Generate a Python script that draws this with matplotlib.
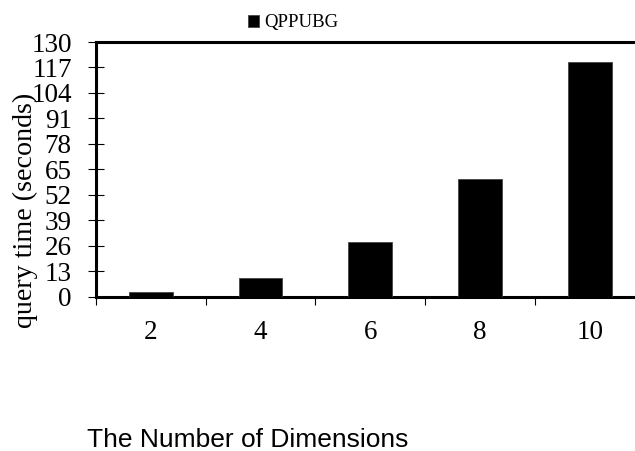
import numpy as np
import matplotlib.pyplot as plt

# data
dims = ["2", "4", "6", "8", "10"]
query_time = [2.3, 9.5, 28, 60, 120]
series_name = "QPPUBG"

fig = plt.figure(figsize=(6.35, 4.51), dpi=100)
ax = fig.add_axes([96 / 635, 154.3 / 451, 548.5 / 635, 254.7 / 451])

x = np.arange(len(dims))
ax.bar(x, query_time, width=0.4, color="black", edgecolor="#444444",
       linewidth=0.6, label=series_name, zorder=3)

ax.set_xlim(-0.5, len(dims) - 0.5)
ax.set_ylim(0, 130)
ax.set_yticks(np.arange(0, 131, 13))

# tick marks sit on the category boundaries, labels in the middle
ax.set_xticks(np.arange(len(dims) + 1) - 0.5)
ax.set_xticklabels([])
ax.set_xticks(x, minor=True)
ax.set_xticklabels(dims, minor=True)
ax.tick_params(axis="x", which="major", direction="out", length=6, width=0.8)
ax.tick_params(axis="x", which="minor", length=0, pad=17)
ax.tick_params(axis="y", direction="inout", length=11, width=0.8, pad=12)

for lab in ax.get_xticklabels(minor=True) + ax.get_yticklabels():
    lab.set_fontfamily("Liberation Serif")
    lab.set_fontsize(19.5)

for side in ["top", "left", "bottom"]:
    ax.spines[side].set_linewidth(2.2)
ax.spines["right"].set_visible(False)

fig.text(25 / 635, 1 - 210 / 451, "query time (seconds)",
         family="Liberation Serif", fontsize=20.2, rotation=90,
         ha="center", va="center")

fig.text(87 / 635, 1 - 447 / 451, "The Number of Dimensions",
         family="Liberation Sans", fontsize=19, ha="left", va="baseline")

ax.legend(loc="center", bbox_to_anchor=(293 / 635, 1 - 23 / 451),
          bbox_transform=fig.transFigure, frameon=False,
          prop={"family": "Liberation Serif", "size": 13.5},
          handlelength=0.6, handleheight=0.6, handletextpad=0.3,
          borderpad=0, borderaxespad=0)

fig.savefig("out.png", dpi=100)
